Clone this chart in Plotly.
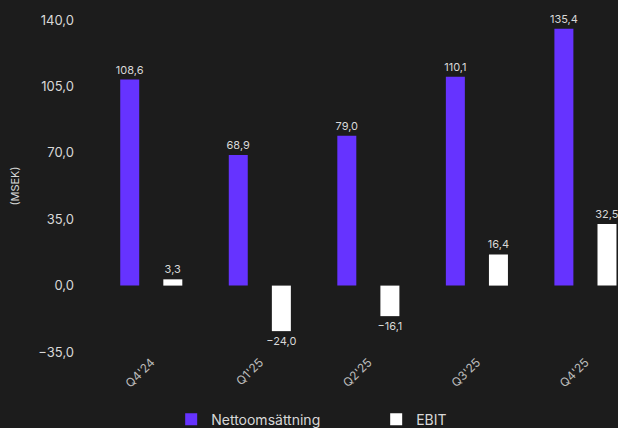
import plotly.graph_objects as go

# Quarterly figures (MSEK)
quarters = ["Q4'24", "Q1'25", "Q2'25", "Q3'25", "Q4'25"]
net_sales = [108.6, 68.9, 79.0, 110.1, 135.4]
ebit = [3.3, -24.0, -16.1, 16.4, 32.5]
y_ticks = [-35, 0, 35, 70, 105, 140]

BG = "#1c1c1c"
PURPLE = "#6633ff"
WHITE = "#ffffff"
TEXT = "#d8d8d8"
FONT = "Inter, Lato, sans-serif"


def fmt(v):
    s = f"{abs(v):.1f}".replace(".", ",")
    return ("\u2212" + s) if v < 0 else s


fig = go.Figure()
fig.add_trace(go.Bar(
    name="Nettoomsättning", x=quarters, y=net_sales,
    marker=dict(color=PURPLE, line=dict(width=0)),
    width=0.175, offset=-0.286,
    text=[fmt(v) for v in net_sales], textposition="outside",
    constraintext="none",
    textfont=dict(color=TEXT, size=11, family=FONT),
    cliponaxis=False,
))
fig.add_trace(go.Bar(
    name="EBIT", x=quarters, y=ebit,
    marker=dict(color=WHITE, line=dict(width=0)),
    width=0.175, offset=0.111,
    text=[fmt(v) for v in ebit], textposition="outside",
    constraintext="none",
    textfont=dict(color=TEXT, size=11, family=FONT),
    cliponaxis=False,
))

fig.update_layout(
    width=618, height=428,
    margin=dict(l=97, r=0, t=20, b=76, autoexpand=False),
    paper_bgcolor=BG, plot_bgcolor=BG,
    barmode="overlay",
    separators=", ",
    font=dict(family=FONT, color=TEXT, size=13),
    showlegend=True,
    legend=dict(
        orientation="h", xref="container", yref="container",
        x=0.277, xanchor="left", y=0.057, yanchor="top",
        font=dict(size=14, color=TEXT, family=FONT),
        entrywidth=160, bgcolor="rgba(0,0,0,0)",
    ),
    xaxis=dict(
        type="category", range=[-0.5, 4.3],
        showgrid=False, zeroline=False, showline=False,
        tickangle=-45, tickfont=dict(size=12, color="#bdbdbd", family=FONT),
        ticks="", automargin=False,
    ),
    yaxis=dict(
        range=[-35, 140], tickvals=y_ticks, tickformat=".1f",
        showgrid=False, zeroline=False, showline=False,
        tickfont=dict(size=13, color=TEXT, family=FONT),
        ticklabelstandoff=22,
        title=dict(text="(MSEK)", font=dict(size=11, color=TEXT, family=FONT), standoff=16),
        automargin=False,
    ),
)

fig.write_html("out.html")
